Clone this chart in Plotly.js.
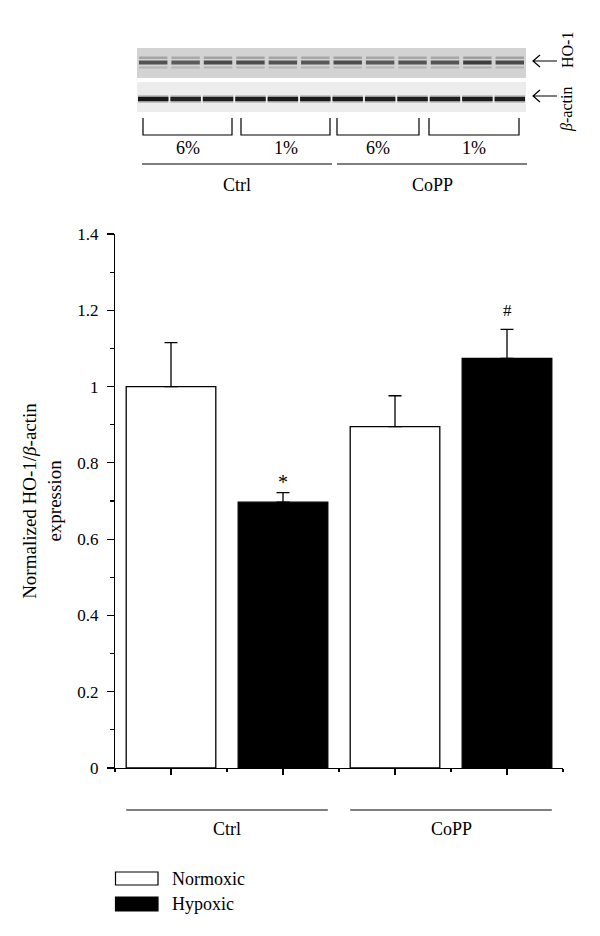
<!DOCTYPE html>
<html>
<head>
<meta charset="utf-8">
<script src="https://cdn.plot.ly/plotly-3.0.1.min.js"></script>
<style>html,body{margin:0;padding:0;background:#fff;}#chart{width:600px;height:936px;}</style>
</head>
<body>
<div id="chart"></div>
<script>
// ---- data ----
var groups = ['Ctrl', 'CoPP'];
var conditions = ['Normoxic', 'Hypoxic'];
var normoxicX = [0, 2];
var hypoxicX = [1, 3];
var normoxicValues = [1.0, 0.895];
var normoxicErrors = [0.115, 0.081];
var hypoxicValues = [0.697, 1.074];
var hypoxicErrors = [0.025, 0.076];
var hypoxicMarks = ['*', '#'];
var yTickVals = [0, 0.2, 0.4, 0.6, 0.8, 1, 1.2, 1.4];
var blotOxygen = ['6%', '1%', '6%', '1%'];
var hoLaneIntensity = [0.75, 0.7, 0.8, 0.78, 0.75, 0.72, 0.78, 0.72, 0.74, 0.74, 0.88, 0.8];
var actinLaneIntensity = [0.95, 0.88, 0.9, 0.9, 0.92, 0.93, 0.92, 0.9, 0.9, 0.9, 0.92, 0.9];

// ---- geometry helpers (plot area: x 115..563, y 234..768 px) ----
var L = 115, R = 563, T = 234, B = 768;
function X(p) { return (p - L) / (R - L); }
function Y(p) { return (B - p) / (B - T); }
var FONT = 'Liberation Serif, Times New Roman, serif';
var LABEL = 18;

var shapes = [];
var annotations = [];

// western blot backgrounds
var bx0 = 137, bx1 = 526;
shapes.push({type: 'rect', xref: 'paper', yref: 'paper', x0: X(bx0), x1: X(bx1), y0: Y(78), y1: Y(48), fillcolor: '#d3d3d3', line: {width: 0}, layer: 'below'});
shapes.push({type: 'rect', xref: 'paper', yref: 'paper', x0: X(bx0), x1: X(bx1), y0: Y(112), y1: Y(82), fillcolor: '#ececec', line: {width: 0}, layer: 'below'});
var laneW = (bx1 - bx0) / hoLaneIntensity.length;
hoLaneIntensity.forEach(function (v, i) {
  var a = bx0 + i * laneW + 2, b = bx0 + (i + 1) * laneW - 2;
  shapes.push({type: 'rect', xref: 'paper', yref: 'paper', x0: X(a), x1: X(b), y0: Y(59), y1: Y(56.5), fillcolor: 'rgba(60,60,60,' + (v * 0.4) + ')', line: {width: 0}});
  shapes.push({type: 'rect', xref: 'paper', yref: 'paper', x0: X(a), x1: X(b), y0: Y(64.5), y1: Y(60.5), fillcolor: 'rgba(40,40,40,' + v + ')', line: {width: 0}});
  shapes.push({type: 'rect', xref: 'paper', yref: 'paper', x0: X(a), x1: X(b), y0: Y(68.5), y1: Y(66.5), fillcolor: 'rgba(80,80,80,' + (v * 0.3) + ')', line: {width: 0}});
});
actinLaneIntensity.forEach(function (v, i) {
  var a = bx0 + i * laneW + 1, b = bx0 + (i + 1) * laneW - 1;
  shapes.push({type: 'rect', xref: 'paper', yref: 'paper', x0: X(a), x1: X(b), y0: Y(102.5), y1: Y(95.5), fillcolor: 'rgba(60,60,60,' + (v * 0.5) + ')', line: {width: 0}});
  shapes.push({type: 'rect', xref: 'paper', yref: 'paper', x0: X(a), x1: X(b), y0: Y(101), y1: Y(97), fillcolor: 'rgba(15,15,15,' + v + ')', line: {width: 0}});
});
// arrows
[61, 96].forEach(function (yy) {
  shapes.push({type: 'path', xref: 'paper', yref: 'paper',
    path: 'M ' + X(557) + ' ' + Y(yy) + ' L ' + X(533) + ' ' + Y(yy) + ' M ' + X(540) + ' ' + Y(yy - 6) + ' L ' + X(533) + ' ' + Y(yy) + ' L ' + X(540) + ' ' + Y(yy + 6),
    line: {color: '#000', width: 1.2}});
});
annotations.push({xref: 'paper', yref: 'paper', x: X(567), y: Y(50), text: 'HO-1', textangle: -90, showarrow: false, font: {family: FONT, size: 16, color: '#000'}, xanchor: 'center', yanchor: 'middle'});
annotations.push({xref: 'paper', yref: 'paper', x: X(567), y: Y(110), text: '<i>β</i>-actin', textangle: -90, showarrow: false, font: {family: FONT, size: 16, color: '#000'}, xanchor: 'center', yanchor: 'middle'});

// brackets
var brackets = [[143, 232], [241, 330], [337, 419], [429, 519]];
brackets.forEach(function (br, i) {
  shapes.push({type: 'path', xref: 'paper', yref: 'paper',
    path: 'M ' + X(br[0]) + ' ' + Y(118) + ' L ' + X(br[0]) + ' ' + Y(135) + ' L ' + X(br[1]) + ' ' + Y(135) + ' L ' + X(br[1]) + ' ' + Y(118),
    line: {color: '#000', width: 1.2}});
  annotations.push({xref: 'paper', yref: 'paper', x: X((br[0] + br[1]) / 2), y: Y(148), text: blotOxygen[i], showarrow: false, font: {family: FONT, size: LABEL, color: '#000'}, xanchor: 'center', yanchor: 'middle'});
});
var blotGroupLines = [[142, 332], [337, 527]];
blotGroupLines.forEach(function (gl, i) {
  shapes.push({type: 'line', xref: 'paper', yref: 'paper', x0: X(gl[0]), x1: X(gl[1]), y0: Y(164), y1: Y(164), line: {color: '#000', width: 1.2}});
  annotations.push({xref: 'paper', yref: 'paper', x: X((gl[0] + gl[1]) / 2), y: Y(185), text: groups[i], showarrow: false, font: {family: FONT, size: LABEL, color: '#000'}, xanchor: 'center', yanchor: 'middle'});
});

// group lines beneath the x axis (spanning bar edges, in data x)
var groupSpans = [[normoxicX[0] - 0.4, hypoxicX[0] + 0.4], [normoxicX[1] - 0.4, hypoxicX[1] + 0.4]];
groupSpans.forEach(function (sp, i) {
  shapes.push({type: 'line', xref: 'x', yref: 'paper', x0: sp[0], x1: sp[1], y0: Y(810), y1: Y(810), line: {color: '#000', width: 1.2}});
  annotations.push({xref: 'x', yref: 'paper', x: (sp[0] + sp[1]) / 2, y: Y(829), text: groups[i], showarrow: false, font: {family: FONT, size: LABEL, color: '#000'}, xanchor: 'center', yanchor: 'middle'});
});

// significance marks
hypoxicMarks.forEach(function (m, i) {
  annotations.push({xref: 'x', yref: 'y', x: hypoxicX[i], y: hypoxicValues[i] + hypoxicErrors[i], text: m, showarrow: false, font: {family: FONT, size: m === '*' ? 20 : 17, color: '#000'}, xanchor: 'center', yanchor: 'bottom', yshift: m === '#' ? 7 : -2});
});

// legend
var legendRows = [[872, 885, '#ffffff'], [897, 911, '#000000']];
legendRows.forEach(function (r, i) {
  shapes.push({type: 'rect', xref: 'paper', yref: 'paper', x0: X(115.5), x1: X(158), y0: Y(r[1]), y1: Y(r[0]), fillcolor: r[2], line: {color: '#000', width: 1.2}});
  annotations.push({xref: 'paper', yref: 'paper', x: X(170), y: Y((r[0] + r[1]) / 2), text: conditions[i], showarrow: false, font: {family: FONT, size: LABEL, color: '#000'}, xanchor: 'left', yanchor: 'middle'});
});

var traces = [
  {type: 'bar', name: conditions[0], x: normoxicX, y: normoxicValues, width: 0.8,
   marker: {color: '#ffffff', line: {color: '#000', width: 1.3}},
   error_y: {type: 'data', symmetric: false, array: normoxicErrors, arrayminus: [0, 0], color: '#000', thickness: 1.3, width: 6.5}},
  {type: 'bar', name: conditions[1], x: hypoxicX, y: hypoxicValues, width: 0.8,
   marker: {color: '#000000', line: {color: '#000', width: 1.3}},
   error_y: {type: 'data', symmetric: false, array: hypoxicErrors, arrayminus: [0, 0], color: '#000', thickness: 1.3, width: 6.5}}
];

var layout = {
  width: 600, height: 936,
  margin: {l: L, r: 600 - R, t: T, b: 936 - B, pad: 0},
  paper_bgcolor: '#fff', plot_bgcolor: '#fff',
  showlegend: false,
  barmode: 'overlay',
  font: {family: FONT, size: LABEL, color: '#000'},
  xaxis: {range: [-0.5, 3.5], tickvals: [0, 1, 2, 3], showticklabels: false, ticks: 'outside', ticklen: 6, tickwidth: 1.2, tickcolor: '#000',
          showline: true, linecolor: '#000', linewidth: 1.2, showgrid: false, zeroline: false, fixedrange: true,
          minor: {tick0: 0.5, dtick: 1, ticks: 'outside', ticklen: 3, tickwidth: 1.2, tickcolor: '#000', showgrid: false}},
  yaxis: {range: [0, 1.4], tickvals: yTickVals, ticks: 'outside', ticklen: 7, tickwidth: 1.2, tickcolor: '#000',
          showline: true, linecolor: '#000', linewidth: 1.2, showgrid: false, zeroline: false, fixedrange: true,
          ticklabelstandoff: 5,
          tickfont: {family: FONT, size: 17, color: '#000'},
          minor: {tick0: 0.1, dtick: 0.2, ticks: 'outside', ticklen: 4, tickwidth: 1.2, tickcolor: '#000', showgrid: false},
          title: {text: 'Normalized HO-1/<i>β</i>-actin<br>expression', font: {family: FONT, size: 19, color: '#000'}, standoff: 10}},
  shapes: shapes,
  annotations: annotations
};

Plotly.newPlot('chart', traces, layout, {staticPlot: true, displayModeBar: false});
</script>
</body>
</html>
